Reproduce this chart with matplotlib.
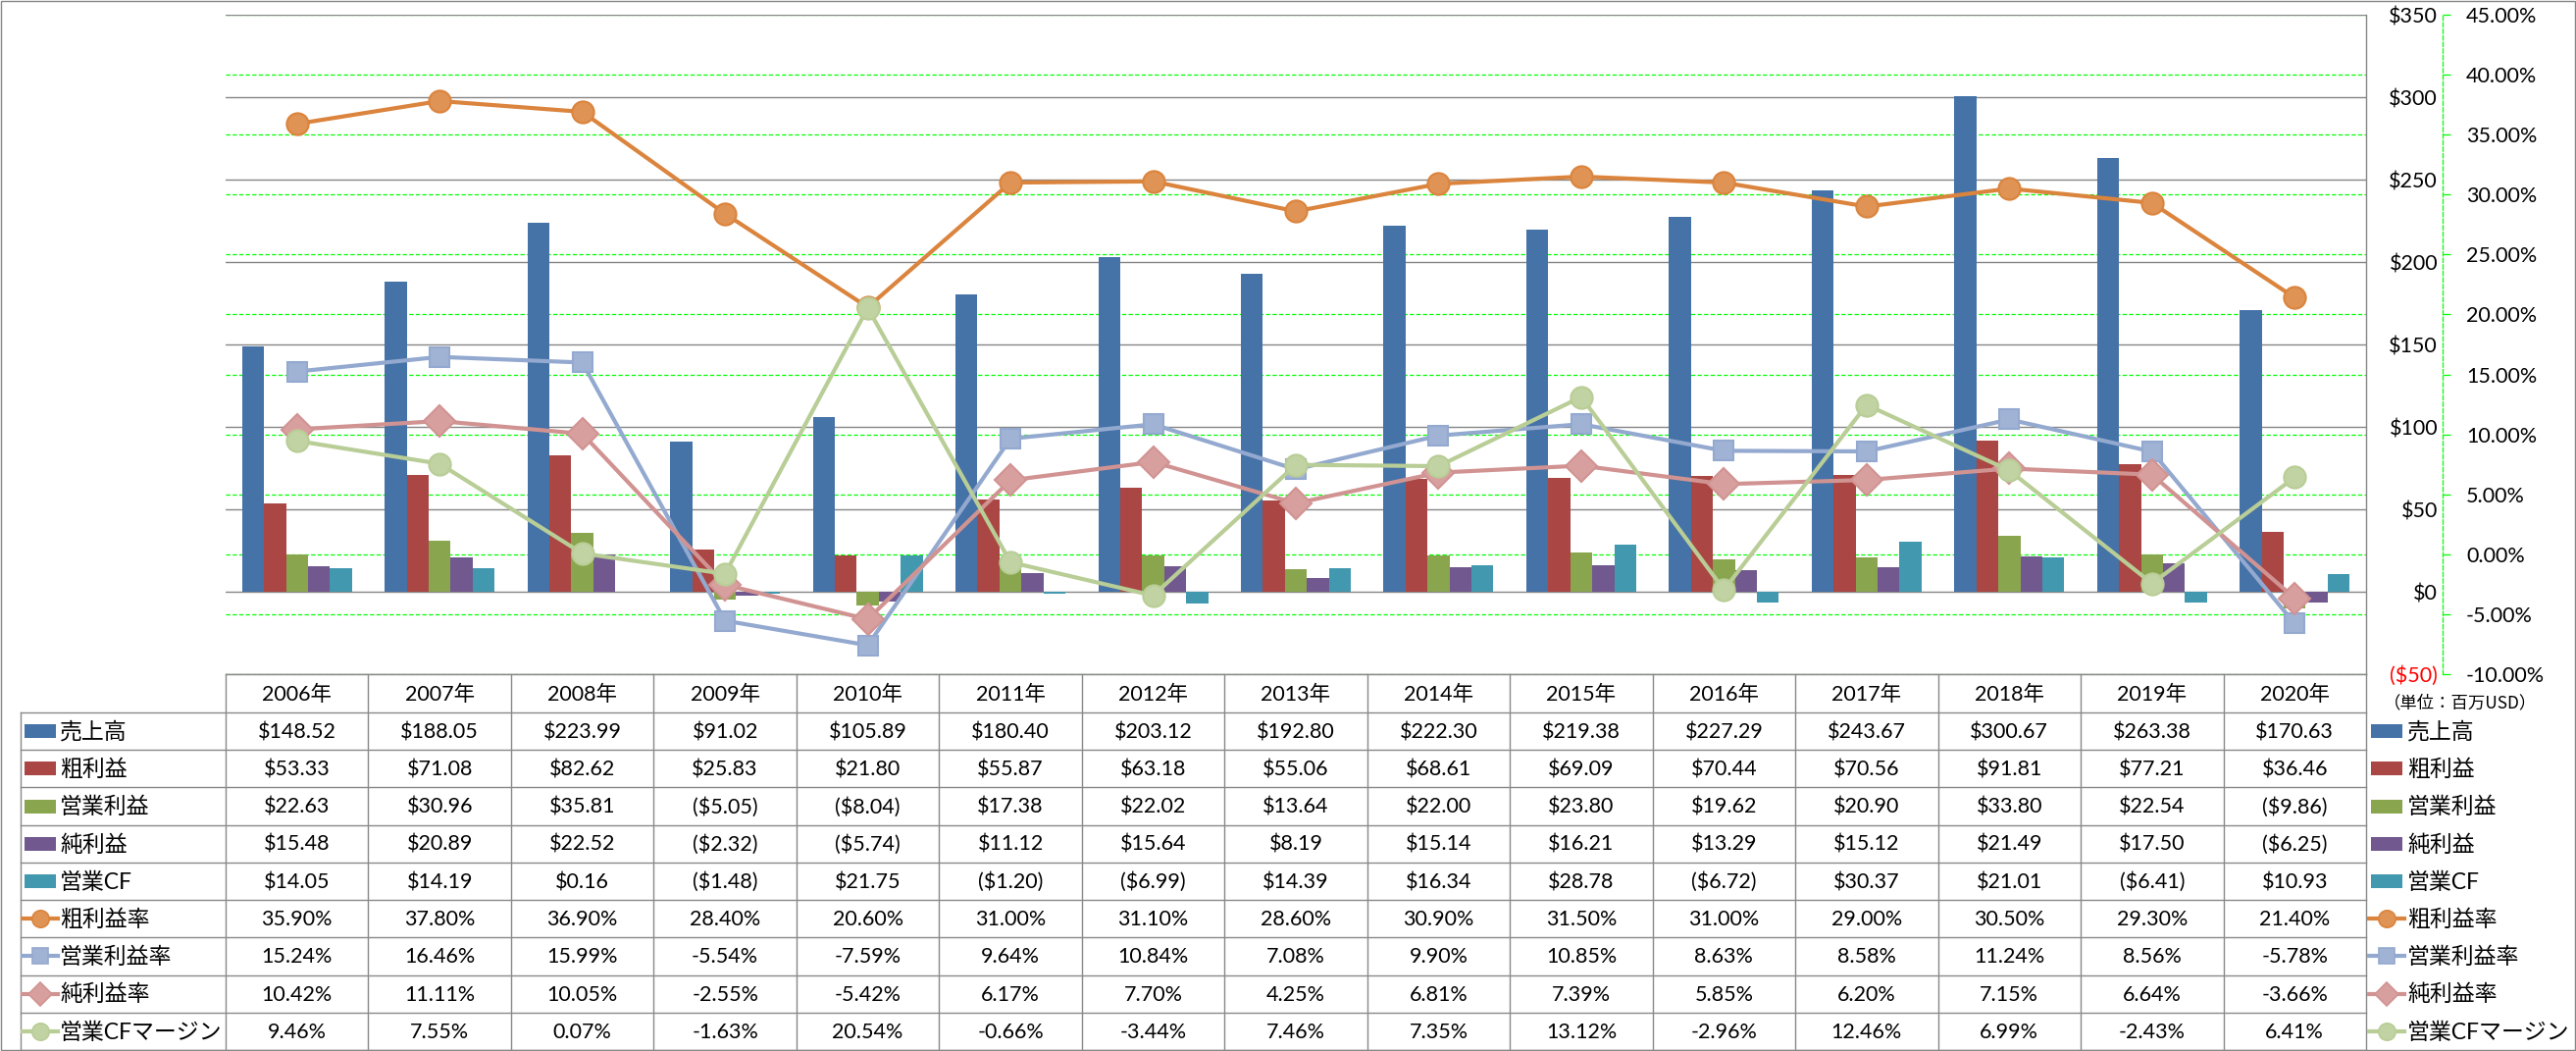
import matplotlib
matplotlib.use('Agg')
import matplotlib.pyplot as plt
import numpy as np
from matplotlib.transforms import blended_transform_factory
from matplotlib.patches import Rectangle

plt.rcParams['font.family'] = ['Lato', 'Noto Sans CJK JP']
plt.rcParams['lines.scale_dashes'] = False

# ---------------- data ----------------
years = [2006, 2007, 2008, 2009, 2010, 2011, 2012, 2013, 2014, 2015, 2016, 2017, 2018, 2019, 2020]
year_labels = [f"{y}年" for y in years]

bar_names = ['売上高', '粗利益', '営業利益', '純利益', '営業CF']
sales = [148.52, 188.05, 223.99, 91.02, 105.89, 180.40, 203.12, 192.80, 222.30, 219.38, 227.29, 243.67, 300.67, 263.38, 170.63]
gross = [53.33, 71.08, 82.62, 25.83, 21.80, 55.87, 63.18, 55.06, 68.61, 69.09, 70.44, 70.56, 91.81, 77.21, 36.46]
op_income = [22.63, 30.96, 35.81, -5.05, -8.04, 17.38, 22.02, 13.64, 22.00, 23.80, 19.62, 20.90, 33.80, 22.54, -9.86]
net_income = [15.48, 20.89, 22.52, -2.32, -5.74, 11.12, 15.64, 8.19, 15.14, 16.21, 13.29, 15.12, 21.49, 17.50, -6.25]
op_cf = [14.05, 14.19, 0.16, -1.48, 21.75, -1.20, -6.99, 14.39, 16.34, 28.78, -6.72, 30.37, 21.01, -6.41, 10.93]

line_names = ['粗利益率', '営業利益率', '純利益率', '営業CFマージン']
gross_margin = [35.90, 37.80, 36.90, 28.40, 20.60, 31.00, 31.10, 28.60, 30.90, 31.50, 31.00, 29.00, 30.50, 29.30, 21.40]
op_margin = [15.24, 16.46, 15.99, -5.54, -7.59, 9.64, 10.84, 7.08, 9.90, 10.85, 8.63, 8.58, 11.24, 8.56, -5.78]
net_margin = [10.42, 11.11, 10.05, -2.55, -5.42, 6.17, 7.70, 4.25, 6.81, 7.39, 5.85, 6.20, 7.15, 6.64, -3.66]
cf_margin = [9.46, 7.55, 0.07, -1.63, 20.54, -0.66, -3.44, 7.46, 7.35, 13.12, -2.96, 12.46, 6.99, -2.43, 6.41]

usd_ticks = [-50, 0, 50, 100, 150, 200, 250, 300, 350]
pct_ticks = [-10, -5, 0, 5, 10, 15, 20, 25, 30, 35, 40, 45]
unit_label = '（単位：百万USD）'

bar_series = [sales, gross, op_income, net_income, op_cf]
line_series = [gross_margin, op_margin, net_margin, cf_margin]

# ---------------- style ----------------
bar_colors = ['#4572A7', '#AA4643', '#89A54E', '#71588F', '#4198AF']
line_colors = ['#DB843D', '#93A9CF', '#D19392', '#B9CD96']
line_markers = ['o', 's', 'D', 'o']
line_ms = [16, 15, 16, 16]
legend_ms = [12.5, 12, 12.5, 12.5]
GRID_GRAY = '#868686'
TABLE_GRAY = '#898989'
GREEN = '#00FF00'
RED = '#FF0000'
FS = 15.5
FS_LABEL = 16.5
DASH = (0, (3.1, 1.7))


def lighten(c, f=0.12):
    rgb = np.array(matplotlib.colors.to_rgb(c))
    return tuple(rgb + (1 - rgb) * f)


def fmt_money(v):
    return f"${v:,.2f}" if v >= 0 else f"(${-v:,.2f})"


def fmt_pct(v):
    return f"{v:.2f}%"


W, H = 2626, 1071
fig = plt.figure(figsize=(W / 100, H / 100), dpi=100)

L, R, T, B = 230, 2412, 15, 687
pos = [L / W, 1 - B / H, (R - L) / W, (B - T) / H]

n = len(years)
x = np.arange(n)
xlim = (-0.5, n - 0.5)

# green percentage grid (behind everything)
ax_g = fig.add_axes(pos, zorder=0)
ax_g.set_xlim(*xlim)
ax_g.set_ylim(pct_ticks[0], pct_ticks[-1])
ax_g.set_yticks(pct_ticks)
ax_g.grid(axis='y', color=GREEN, linestyle=DASH, linewidth=0.9)
ax_g.tick_params(left=False, labelleft=False, bottom=False, labelbottom=False)
for s in ax_g.spines.values():
    s.set_visible(False)

# bars on USD axis
ax_b = fig.add_axes(pos, zorder=1, facecolor='none')
ax_b.set_xlim(*xlim)
ax_b.set_ylim(usd_ticks[0], usd_ticks[-1])
ax_b.set_yticks(usd_ticks, [f"${v}" if v >= 0 else f"(${-v})" for v in usd_ticks])
ax_b.grid(axis='y', color=GRID_GRAY, linewidth=1.0)
ax_b.set_axisbelow(True)
ax_b.tick_params(axis='y', left=False, labelleft=False, right=True, labelright=True,
                 length=0, pad=52.6, labelsize=FS)
ax_b.tick_params(axis='x', bottom=False, labelbottom=False)
for t, v in zip(ax_b.get_yticklabels(), usd_ticks):
    t.set_horizontalalignment('right')
    t.set_color(RED if v < 0 else 'black')
for k in ['left', 'top', 'bottom']:
    ax_b.spines[k].set_visible(False)
ax_b.spines['right'].set_color(GRID_GRAY)
ax_b.spines['right'].set_linewidth(1.0)

bw = 0.154
for k, (vals, c) in enumerate(zip(bar_series, bar_colors)):
    ax_b.bar(x + (k - 2) * bw, vals, width=bw, color=c, zorder=2, linewidth=0)

# lines on percent axis
ax_l = fig.add_axes(pos, zorder=2, facecolor='none')
ax_l.set_xlim(*xlim)
ax_l.set_ylim(pct_ticks[0], pct_ticks[-1])
ax_l.set_yticks(pct_ticks, [fmt_pct(v) for v in pct_ticks])
ax_l.tick_params(axis='y', left=False, labelleft=False, right=True, labelright=True,
                 direction='out', length=5.8, width=0.9, color=GREEN, pad=11.5, labelsize=FS)
ax_l.tick_params(axis='x', bottom=False, labelbottom=False)
for t, v in zip(ax_l.get_yticklabels(), pct_ticks):
    t.set_color(RED if v < 0 else 'black')
for k in ['left', 'top', 'bottom']:
    ax_l.spines[k].set_visible(False)
sp = ax_l.spines['right']
sp.set_position(('axes', (2490 - L) / (R - L)))
sp.set_color(GREEN)
sp.set_linestyle(DASH)
sp.set_linewidth(0.9)

for k, (vals, c) in enumerate(zip(line_series, line_colors)):
    ax_l.plot(x, vals, color=c, linewidth=3.0, marker=line_markers[k], ms=line_ms[k],
              mfc=lighten(c), mec=c, mew=1.5, zorder=3 + k, solid_capstyle='round')

# ---------------- data table & legend ----------------
ax_t = fig.add_axes([0, 0, 1, 1], zorder=3, facecolor='none')
ax_t.set_xlim(0, W)
ax_t.set_ylim(H, 0)
ax_t.axis('off')
tr_col = blended_transform_factory(ax_b.transData, ax_t.transData)

row_top = 726
row_h = (1070 - 726) / 9
tbl_left = 21
lw_t = 1.0

# horizontal lines
ax_t.plot([L, R], [B, B], color=TABLE_GRAY, lw=lw_t)
for i in range(10):
    yy = row_top + i * row_h
    ax_t.plot([tbl_left, R], [yy, yy], color=TABLE_GRAY, lw=lw_t)
# vertical lines
ax_t.plot([tbl_left, tbl_left], [row_top, 1070], color=TABLE_GRAY, lw=lw_t)
for j in range(n + 1):
    ax_t.plot([j - 0.5, j - 0.5], [B, 1070], color=TABLE_GRAY, lw=lw_t, transform=tr_col)

# header
for j, lab in enumerate(year_labels):
    ax_t.text(j, (B + row_top) / 2 + 1, lab, transform=tr_col, ha='center', va='center', fontsize=FS)

rows_vals = [[fmt_money(v) for v in s] for s in bar_series] + [[fmt_pct(v) for v in s] for s in line_series]
row_names = bar_names + line_names

for i, (name, vals) in enumerate(zip(row_names, rows_vals)):
    yc = row_top + (i + 0.5) * row_h
    for j, s in enumerate(vals):
        ax_t.text(j, yc + 1, s, transform=tr_col, ha='center', va='center', fontsize=FS)
    # legend keys: inside table and on right side
    for kx0, tx in [(25, 61), (2417, 2454)]:
        if i < 5:
            ax_t.add_patch(Rectangle((kx0, yc - 7), 32, 14, color=bar_colors[i], lw=0))
        else:
            c = line_colors[i - 5]
            ax_t.plot([kx0 - 2, kx0 + 34], [yc, yc], color=c, lw=3.0)
            ax_t.plot([kx0 + 16], [yc], marker=line_markers[i - 5], ms=legend_ms[i - 5],
                      mfc=lighten(c), mec=c, mew=1.2, color=c)
        ax_t.text(tx, yc + 1, name, ha='left', va='center', fontsize=FS_LABEL)

ax_t.text(2430, 716, unit_label, ha='left', va='center', fontsize=12.5,
          family=['Noto Sans CJK JP', 'DejaVu Sans'])

# outer border
ax_t.add_patch(Rectangle((0.5, 0.5), W - 1.5, H - 1.5, fill=False, edgecolor=GRID_GRAY, lw=1.0))

fig.savefig('out.png', dpi=100)
